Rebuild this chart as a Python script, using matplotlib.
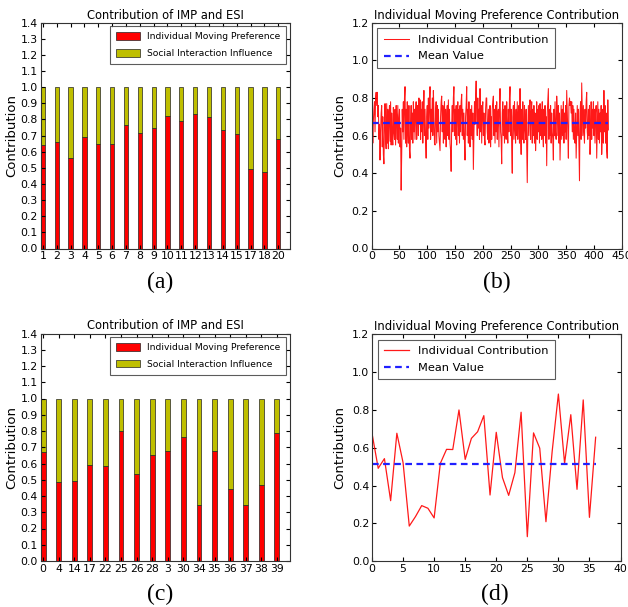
import matplotlib
matplotlib.use('Agg')
import matplotlib.pyplot as plt
import numpy as np

# (a) bar chart
users_a = ['1', '2', '3', '4', '5', '6', '7', '8', '9', '10',
           '11', '12', '13', '14', '15', '17', '18', '20']
imp_a = [0.639, 0.658, 0.560, 0.690, 0.651, 0.645, 0.765, 0.718, 0.746, 0.823,
         0.790, 0.833, 0.813, 0.734, 0.707, 0.490, 0.476, 0.678]

# (c) bar chart
users_c = ['0', '4', '14', '17', '22', '25', '26', '28', '3', '30',
           '34', '35', '36', '37', '38', '39']
imp_c = [0.672, 0.488, 0.492, 0.590, 0.584, 0.799, 0.535, 0.650, 0.680, 0.763,
         0.344, 0.676, 0.443, 0.346, 0.466, 0.786]

# (b) individual contribution over records (hundredths)
contrib_b = [
    58, 70, 56, 68, 74, 78, 62, 80, 83, 76,
    83, 70, 76, 58, 66, 47, 62, 72, 76, 54,
    70, 50, 45, 66, 77, 58, 53, 77, 56, 74,
    53, 70, 76, 57, 78, 55, 72, 60, 55, 75,
    62, 58, 74, 55, 76, 70, 58, 76, 56, 68,
    74, 54, 64, 31, 50, 74, 62, 78, 58, 80,
    86, 56, 74, 54, 78, 62, 56, 76, 52, 48,
    66, 76, 58, 72, 56, 78, 62, 74, 58, 72,
    78, 58, 70, 76, 60, 80, 66, 79, 58, 74,
    62, 78, 56, 72, 84, 60, 74, 58, 48, 70,
    76, 58, 80, 64, 78, 86, 58, 74, 62, 80,
    60, 84, 72, 56, 55, 72, 78, 56, 76, 62,
    74, 60, 56, 52, 70, 78, 81, 62, 76, 56,
    72, 78, 58, 74, 54, 70, 76, 60, 79, 58,
    74, 56, 52, 41, 66, 76, 62, 80, 86, 60,
    74, 58, 76, 55, 72, 78, 60, 74, 56, 76,
    62, 78, 82, 60, 74, 58, 72, 56, 47, 70,
    76, 86, 60, 74, 56, 78, 62, 54, 74, 60,
    76, 58, 72, 42, 62, 78, 66, 80, 89, 70,
    60, 80, 64, 74, 58, 85, 62, 76, 56, 74,
    78, 60, 72, 58, 55, 74, 80, 80, 62, 58,
    74, 56, 60, 76, 54, 70, 58, 74, 78, 81,
    60, 74, 56, 76, 62, 78, 58, 72, 74, 54,
    76, 85, 62, 58, 45, 72, 78, 60, 74, 56,
    76, 62, 58, 78, 64, 56, 74, 62, 80, 86,
    60, 74, 54, 40, 70, 76, 58, 78, 64, 56,
    74, 60, 78, 58, 72, 76, 56, 85, 62, 50,
    74, 58, 78, 62, 56, 76, 64, 58, 74, 54,
    35, 62, 76, 60, 74, 79, 58, 72, 78, 56,
    74, 60, 76, 56, 72, 52, 62, 78, 58, 74,
    62, 76, 56, 77, 60, 74, 58, 78, 62, 54,
    74, 60, 76, 56, 70, 44, 72, 78, 85, 58,
    74, 60, 76, 56, 72, 62, 58, 47, 74, 60,
    78, 62, 58, 81, 74, 60, 76, 56, 72, 47,
    62, 76, 58, 74, 60, 78, 56, 72, 62, 76,
    58, 84, 74, 62, 48, 76, 80, 76, 78, 72,
    78, 62, 76, 58, 74, 60, 56, 72, 48, 62,
    76, 60, 74, 56, 36, 72, 78, 58, 88, 74,
    60, 76, 62, 56, 74, 64, 78, 83, 62, 58,
    74, 60, 76, 50, 62, 78, 58, 74, 64, 78,
    60, 74, 56, 72, 76, 48, 62, 78, 58, 74,
    56, 72, 62, 76, 50, 60, 74, 56, 84, 62,
    76, 56, 72, 52, 48, 79, 63,
]
mean_b = 0.667

# (d) individual contribution
contrib_d = [0.676, 0.491, 0.542, 0.320, 0.676, 0.521, 0.186, 0.236, 0.294, 0.280,
             0.229, 0.517, 0.591, 0.590, 0.799, 0.538, 0.649, 0.684, 0.769, 0.350,
             0.681, 0.442, 0.348, 0.468, 0.787, 0.130, 0.678, 0.597, 0.209, 0.580,
             0.883, 0.517, 0.774, 0.380, 0.852, 0.232, 0.655]
mean_d = 0.514

red = '#ff0000'
olive = '#bfbf00'
W, H = 628, 607

fig = plt.figure(figsize=(W / 100, H / 100), dpi=100)
fig.patch.set_facecolor('white')


def style_axes(ax):
    ax.tick_params(direction='in', top=True, right=True, labelsize=7.8,
                   length=3, pad=2)
    for s in ax.spines.values():
        s.set_linewidth(0.8)
        s.set_color('#333333')


def bar_panel(rect, names, vals):
    ax = fig.add_axes(rect)
    x = np.arange(len(names))
    vals = np.array(vals)
    w = 0.31
    ax.bar(x, vals, w, align='edge', color=red, edgecolor='#222222',
           linewidth=0.5, label='Individual Moving Preference')
    ax.bar(x, 1 - vals, w, bottom=vals, align='edge', color=olive,
           edgecolor='#222222', linewidth=0.5, label='Social Interaction Influence')
    ax.set_xlim(0, len(names))
    ax.set_ylim(0, 1.4)
    ax.set_xticks(x + w / 2)
    ax.set_xticklabels(names)
    ax.set_yticks(np.arange(0, 1.41, 0.1))
    ax.set_yticklabels(['%.1f' % v for v in np.arange(0, 1.41, 0.1)])
    ax.set_ylabel('Contribution', fontsize=9.5, labelpad=2)
    ax.set_title('Contribution of IMP and ESI', fontsize=8.3, pad=3)
    style_axes(ax)
    leg = ax.legend(loc='upper right', fontsize=6.6, fancybox=False,
                    handlelength=2.6, handleheight=0.95, borderpad=0.65,
                    labelspacing=0.8, borderaxespad=0.4)
    leg.get_frame().set_edgecolor('#333333')
    leg.get_frame().set_linewidth(0.8)
    return ax


def line_panel(rect, vals, mean, xmax, xstep):
    ax = fig.add_axes(rect)
    vals = np.array(vals)
    x = np.arange(len(vals))
    lw = 0.75 if len(vals) > 100 else 0.9
    ax.plot(x, vals, color=red, linewidth=lw, alpha=0.9,
            label='Individual Contribution')
    ax.plot([x[0], x[-1]], [mean, mean], color='#2020ff', linestyle='--',
            linewidth=1.6, dashes=(3, 2), label='Mean Value')
    ax.set_xlim(0, xmax)
    ax.set_ylim(0, 1.2)
    ax.set_xticks(np.arange(0, xmax + 1, xstep))
    ax.set_yticks(np.arange(0, 1.21, 0.2))
    ax.set_yticklabels(['%.1f' % v for v in np.arange(0, 1.21, 0.2)])
    ax.set_ylabel('Contribution', fontsize=9.5, labelpad=4)
    ax.set_title('Individual Moving Preference Contribution', fontsize=8.4, pad=3)
    style_axes(ax)
    leg = ax.legend(loc='upper left', fontsize=8.2, fancybox=False,
                    handlelength=2.2, borderpad=0.55, labelspacing=0.6,
                    borderaxespad=0.5)
    leg.get_frame().set_edgecolor('#333333')
    leg.get_frame().set_linewidth(0.8)
    return ax


def frac(l, t, r, b):
    return [l / W, 1 - b / H, (r - l) / W, (b - t) / H]


bar_panel(frac(40.7, 22.7, 290, 248.5), users_a, imp_a)
bar_panel(frac(40.7, 333.5, 290, 561), users_c, imp_c)
line_panel(frac(371.7, 22.7, 621.7, 248.5), np.array(contrib_b) / 100.0, mean_b, 450, 50)
line_panel(frac(372, 334, 620.5, 561.3), contrib_d, mean_d, 40, 5)

for lbl, px, py in [('(a)', 160, 282), ('(b)', 497, 282), ('(c)', 160, 594), ('(d)', 495, 594)]:
    fig.text(px / W, 1 - py / H, lbl, ha='center', va='center', fontsize=17,
             family='Liberation Serif')

fig.savefig('out.png', dpi=100, facecolor='white')
